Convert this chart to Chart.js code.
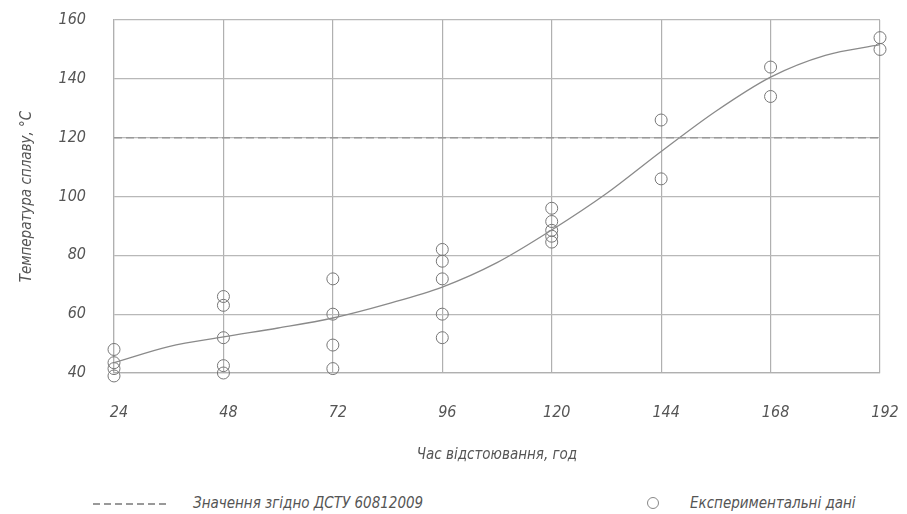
<!DOCTYPE html>
<html>
<head>
<meta charset="utf-8">
<script src="https://cdn.jsdelivr.net/npm/chart.js@4.4.1/dist/chart.umd.min.js"></script>
<style>
    body { margin: 0; background: #fff; }
    #wrap { position: relative; width: 907px; height: 514px; }
    #chart-box { position: absolute; left: 0; top: 0; width: 907px; height: 470px; }
    .legend-text {
        position: absolute; top: 494px;
        font: italic 15px 'Liberation Sans Narrow', 'DejaVu Sans Condensed', sans-serif;
        color: #555;
    }
    #dash-sample {
        position: absolute; left: 93px; top: 503px; width: 76px; height: 1.5px;
        background: repeating-linear-gradient(90deg, #999 0 7px, transparent 7px 11px);
    }
    #circle-sample {
        position: absolute; left: 647px; top: 497px; width: 10px; height: 10px;
        border: 1px solid #888; border-radius: 50%;
    }
</style>
</head>
<body>
<div id="wrap">
    <div id="chart-box"><canvas id="temp-chart"></canvas></div>
    <div id="dash-sample"></div>
    <div class="legend-text" style="left:193px">Значення згідно ДСТУ 60812009</div>
    <div id="circle-sample"></div>
    <div class="legend-text" style="left:690px">Експериментальні дані</div>
</div>
<script>
// experimental points (hours, temperature)
const expHours = [24, 24, 24, 24,
    48, 48, 48, 48, 48,
    72, 72, 72, 72,
    96, 96, 96, 96, 96,
    120, 120, 120, 120, 120,
    144, 144,
    168, 168,
    192, 192];
const expTemps = [48, 43.5, 41.5, 39,
    66, 63, 52, 42.5, 40,
    72, 60, 49.5, 41.5,
    82, 78, 72, 60, 52,
    96, 91.5, 88.5, 86.5, 84.5,
    126, 106,
    144, 134,
    154, 150];

// fitted curve
const fitHours = [24, 36, 48, 60, 72, 84, 96, 108, 120, 132, 144, 156, 168, 180, 192];
const fitTemps = [43.5, 49, 52.3, 55.3, 58.7, 63.5, 69.2, 77.5, 88.6, 101, 115.3, 129, 140.6, 148, 151.6];

// DSTU value
const dstuHours = [24, 192];
const dstuTemps = [120, 120];

const xTicks = [24, 48, 72, 96, 120, 144, 168, 192];
const yTicks = [40, 60, 80, 100, 120, 140, 160];

const FONT = "'Liberation Sans Narrow', 'DejaVu Sans Condensed', sans-serif";
const toPoints = (xs, ys) => xs.map((x, i) => ({ x: x, y: ys[i] }));

new Chart(document.getElementById('temp-chart'), {
    type: 'scatter',
    data: {
        datasets: [
            {
                label: 'Значення згідно ДСТУ 60812009',
                data: toPoints(dstuHours, dstuTemps),
                showLine: true,
                borderColor: '#999',
                borderWidth: 1.5,
                borderDash: [8, 4],
                pointRadius: 0
            },
            {
                label: 'fit',
                data: toPoints(fitHours, fitTemps),
                showLine: true,
                borderColor: '#8a8a8a',
                borderWidth: 1.3,
                cubicInterpolationMode: 'monotone',
                pointRadius: 0
            },
            {
                label: 'Експериментальні дані',
                data: toPoints(expHours, expTemps),
                pointRadius: 6,
                pointBorderWidth: 1,
                pointBorderColor: '#777',
                pointBackgroundColor: 'transparent',
                clip: false
            }
        ]
    },
    options: {
        responsive: true,
        maintainAspectRatio: false,
        animation: false,
        layout: { autoPadding: false, padding: { left: 0, right: 27, top: 20, bottom: 0 } },
        plugins: {
            legend: { display: false },
            tooltip: { enabled: false }
        },
        scales: {
            x: {
                type: 'linear',
                min: 24,
                max: 192,
                afterBuildTicks: (scale) => { scale.ticks = xTicks.map(v => ({ value: v })); },
                afterFit: (scale) => {
                    scale.height = 97;
                    scale.paddingLeft = 0;
                    scale.paddingRight = 0;
                },
                grid: { color: '#b0b0b0', lineWidth: 1.2, drawTicks: false },
                border: { color: '#b0b0b0', width: 1.2 },
                ticks: { padding: 30, labelOffset: 5, color: '#555', font: { family: FONT, size: 16, style: 'italic' } },
                title: {
                    display: true,
                    text: 'Час відстоювання, год',
                    color: '#555',
                    padding: { top: 0, bottom: 6 },
                    font: { family: FONT, size: 15, style: 'italic' }
                }
            },
            y: {
                min: 40,
                max: 160,
                afterBuildTicks: (scale) => { scale.ticks = yTicks.map(v => ({ value: v })); },
                afterFit: (scale) => {
                    scale.width = 114;
                    scale.paddingTop = 0;
                    scale.paddingBottom = 0;
                },
                grid: { color: '#b8b8b8', lineWidth: 1.2, drawTicks: false },
                border: { color: '#b0b0b0', width: 1.2 },
                ticks: { padding: 28, color: '#555', font: { family: FONT, size: 16, style: 'italic' } },
                title: {
                    display: true,
                    text: 'Температура сплаву, °C',
                    color: '#555',
                    padding: { top: 18, bottom: 0 },
                    font: { family: FONT, size: 15, style: 'italic' }
                }
            }
        }
    }
});
</script>
</body>
</html>
